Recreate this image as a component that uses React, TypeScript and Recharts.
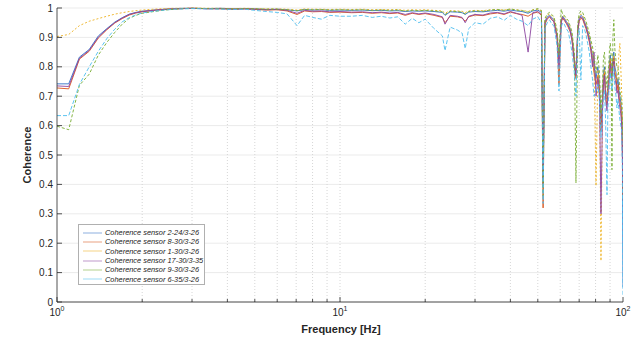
import { LineChart, Line, XAxis, YAxis, CartesianGrid, ReferenceLine, Legend } from "recharts";

// frequency grid [Hz]
const FREQ = [
  1.0, 1.1, 1.2, 1.3, 1.4, 1.5, 1.6, 1.7, 1.8, 1.9,
  2.0, 2.2, 2.4, 2.6, 2.8, 3.0, 3.4, 3.8, 4.2, 4.6,
  5.0, 5.5, 6.0, 6.5, 7.05, 7.5, 8.0, 8.6, 9.2, 10,
  11, 12, 13, 14, 15, 16, 17, 18, 19, 20,
  21.5, 23, 23.5, 24.5, 26, 27, 27.7, 28.5, 30, 32,
  34, 36, 38, 40, 42, 44, 46.2, 48, 50, 51.5,
  52.2, 53, 54, 55, 56, 57, 58.5, 59.4, 60.5, 61.2, 62, 63, 64, 65, 66,
  67.3, 68.2, 69.2, 70, 71, 72, 73, 74, 75, 76, 77, 78, 79, 80.3, 81.5,
  82.6, 83.6, 84.7, 85.3, 86, 86.8, 87.8, 88.4, 89, 89.6, 90.2, 90.8, 91.4, 92.1, 92.8, 93.6, 94.5, 95.2,
  96, 96.8, 97.5, 98.2, 99, 99.5, 100,
];

const S_2_24 = [
  0.742, 0.742, 0.833, 0.859, 0.905, 0.93, 0.952, 0.967, 0.979, 0.985,
  0.989, 0.993, 0.996, 0.998, 0.999, 0.999, 0.998, 0.999, 0.997, 0.998,
  0.997, 0.995, 0.996, 0.994, 0.99, 0.995, 0.993, 0.994, 0.992, 0.993,
  0.992, 0.993, 0.991, 0.992, 0.99, 0.991, 0.988, 0.99, 0.989, 0.99,
  0.988, 0.985, 0.975, 0.987, 0.986, 0.984, 0.978, 0.986, 0.988, 0.987,
  0.99, 0.992, 0.989, 0.993, 0.99, 0.988, 0.982, 0.99, 0.993, 0.985,
  0.4, 0.955, 0.97, 0.975, 0.968, 0.96, 0.91, 0.82, 0.96, 0.972, 0.965, 0.955, 0.945, 0.93, 0.905,
  0.83, 0.78, 0.93, 0.965, 0.975, 0.97, 0.955, 0.94, 0.92, 0.9, 0.87, 0.84, 0.8, 0.76, 0.8,
  0.74, 0.6, 0.7, 0.78, 0.8, 0.72, 0.69, 0.74, 0.76, 0.82, 0.84, 0.8, 0.79, 0.83, 0.85, 0.8, 0.78, 0.74,
  0.76, 0.72, 0.7, 0.68, 0.65, 0.55, 0.05,
];

const S_8_30 = [
  0.728, 0.725, 0.826, 0.853, 0.898, 0.926, 0.949, 0.964, 0.976, 0.983,
  0.987, 0.992, 0.995, 0.997, 0.998, 0.999, 0.998, 0.997, 0.996, 0.997,
  0.995, 0.993, 0.994, 0.99, 0.978, 0.99, 0.987, 0.988, 0.985, 0.986,
  0.984, 0.985, 0.982, 0.984, 0.981, 0.983, 0.975, 0.982, 0.978, 0.981,
  0.975, 0.968, 0.95, 0.972, 0.97, 0.966, 0.955, 0.97, 0.976, 0.974,
  0.98, 0.983, 0.978, 0.986, 0.981, 0.978, 0.972, 0.982, 0.986, 0.975,
  0.32, 0.945, 0.962, 0.97, 0.96, 0.955, 0.9, 0.74, 0.955, 0.965, 0.958, 0.948, 0.935, 0.92, 0.895,
  0.81, 0.76, 0.915, 0.955, 0.965, 0.962, 0.945, 0.93, 0.91, 0.885, 0.855, 0.82, 0.78, 0.74, 0.77,
  0.72, 0.58, 0.68, 0.75, 0.78, 0.7, 0.67, 0.72, 0.74, 0.8, 0.82, 0.78, 0.77, 0.81, 0.83, 0.78, 0.76, 0.72,
  0.74, 0.7, 0.68, 0.66, 0.62, 0.52, 0.35,
];

const S_1_30 = [
  0.903, 0.91, 0.94, 0.955, 0.964, 0.972, 0.979, 0.984, 0.988, 0.991,
  0.993, 0.996, 0.998, 0.999, 0.999, 1.0, 0.999, 0.999, 0.998, 0.999,
  0.998, 0.997, 0.997, 0.996, 0.993, 0.997, 0.996, 0.996, 0.995, 0.996,
  0.995, 0.996, 0.994, 0.995, 0.994, 0.995, 0.992, 0.994, 0.993, 0.994,
  0.992, 0.99, 0.982, 0.991, 0.99, 0.989, 0.984, 0.99, 0.992, 0.991,
  0.994, 0.995, 0.993, 0.996, 0.994, 0.992, 0.988, 0.994, 0.996, 0.99,
  0.45, 0.96, 0.975, 0.98, 0.972, 0.965, 0.915, 0.83, 0.962, 0.975, 0.97, 0.96, 0.95, 0.935, 0.91,
  0.84, 0.79, 0.935, 0.97, 0.98, 0.975, 0.96, 0.945, 0.925, 0.905, 0.875, 0.845, 0.81, 0.395, 0.79,
  0.73, 0.14, 0.69, 0.77, 0.79, 0.71, 0.68, 0.73, 0.75, 0.81, 0.83, 0.79, 0.78, 0.82, 0.84, 0.79, 0.77, 0.75,
  0.79, 0.85, 0.88, 0.8, 0.7, 0.6, 0.45,
];

const S_17_30 = [
  0.735, 0.733, 0.829, 0.856, 0.901, 0.928, 0.95, 0.966, 0.978, 0.984,
  0.988, 0.992, 0.995, 0.997, 0.998, 0.999, 0.997, 0.998, 0.996, 0.997,
  0.996, 0.994, 0.995, 0.992, 0.982, 0.992, 0.989, 0.99, 0.987, 0.988,
  0.986, 0.987, 0.984, 0.986, 0.983, 0.985, 0.978, 0.984, 0.98, 0.983,
  0.978, 0.97, 0.945, 0.975, 0.972, 0.968, 0.95, 0.972, 0.978, 0.976,
  0.983, 0.985, 0.98, 0.988, 0.982, 0.975, 0.85, 0.984, 0.988, 0.978,
  0.42, 0.95, 0.965, 0.972, 0.962, 0.952, 0.895, 0.8, 0.95, 0.968, 0.962, 0.95, 0.94, 0.925, 0.89,
  0.82, 0.77, 0.92, 0.96, 0.97, 0.965, 0.95, 0.935, 0.915, 0.89, 0.86, 0.8, 0.85, 0.7, 0.76,
  0.7, 0.3, 0.66, 0.74, 0.77, 0.69, 0.65, 0.7, 0.72, 0.78, 0.81, 0.77, 0.76, 0.8, 0.82, 0.76, 0.74, 0.71,
  0.72, 0.68, 0.66, 0.64, 0.6, 0.5, 0.4,
];

const S_9_30 = [
  0.598, 0.586, 0.737, 0.775, 0.84, 0.883, 0.917, 0.945, 0.965, 0.975,
  0.982, 0.988, 0.993, 0.996, 0.998, 0.999, 0.998, 0.998, 0.997, 0.998,
  0.997, 0.996, 0.996, 0.994, 0.991, 0.995, 0.994, 0.995, 0.993, 0.994,
  0.993, 0.994, 0.992, 0.993, 0.992, 0.993, 0.99, 0.992, 0.991, 0.992,
  0.99, 0.987, 0.978, 0.989, 0.988, 0.986, 0.98, 0.988, 0.99, 0.989,
  0.993, 0.995, 0.992, 0.997, 0.993, 0.991, 0.986, 0.993, 0.998, 0.992,
  0.36, 0.965, 0.98, 0.985, 0.978, 0.97, 0.925, 0.84, 0.996, 0.978, 0.975, 0.965, 0.958, 0.94, 0.92,
  0.85, 0.405, 0.945, 0.98, 0.99, 0.985, 0.97, 0.955, 0.935, 0.915, 0.89, 0.87, 0.83, 0.78, 0.84,
  0.78, 0.64, 0.75, 0.83, 0.85, 0.78, 0.73, 0.78, 0.8, 0.86, 0.88, 0.84, 0.45, 0.9, 0.96, 0.86, 0.82, 0.8,
  0.8, 0.76, 0.72, 0.7, 0.68, 0.62, 0.55,
];

const S_6_35 = [
  0.634, 0.634, 0.74, 0.8, 0.853, 0.896, 0.928, 0.953, 0.967, 0.977,
  0.983, 0.989, 0.993, 0.996, 0.997, 0.998, 0.997, 0.996, 0.995, 0.996,
  0.992, 0.988, 0.985, 0.98, 0.94, 0.975, 0.968, 0.962, 0.975, 0.972,
  0.972, 0.975, 0.968, 0.972, 0.966, 0.97, 0.945, 0.965, 0.95, 0.962,
  0.93, 0.905, 0.855, 0.935, 0.925, 0.915, 0.862, 0.93, 0.95, 0.945,
  0.965, 0.97, 0.958, 0.975, 0.962, 0.955, 0.94, 0.962, 0.97, 0.95,
  0.335, 0.93, 0.95, 0.96, 0.945, 0.94, 0.87, 0.718, 0.935, 0.95, 0.945, 0.93, 0.92, 0.89, 0.85,
  0.78, 0.7, 0.9, 0.93, 0.755, 0.94, 0.93, 0.91, 0.88, 0.85, 0.8, 0.76, 0.7, 0.72, 0.74,
  0.68, 0.56, 0.64, 0.7, 0.72, 0.62, 0.365, 0.66, 0.7, 0.75, 0.78, 0.74, 0.72, 0.76, 0.8, 0.73, 0.7, 0.66,
  0.69, 0.65, 0.62, 0.6, 0.58, 0.45, 0.02,
];

const SERIES = [
  { key: "s1", name: "Coherence sensor 2-24/3-26", color: "#2f6fc4", dash: undefined, values: S_2_24 },
  { key: "s2", name: "Coherence sensor 8-30/3-26", color: "#d95319", dash: undefined, values: S_8_30 },
  { key: "s3", name: "Coherence sensor 1-30/3-26", color: "#edb120", dash: "2 2", values: S_1_30 },
  { key: "s4", name: "Coherence sensor 17-30/3-35", color: "#8c45a0", dash: undefined, values: S_17_30 },
  { key: "s5", name: "Coherence sensor 9-30/3-26", color: "#77ac30", dash: "3 2", values: S_9_30 },
  { key: "s6", name: "Coherence sensor 6-35/3-26", color: "#4dbeee", dash: "4 2", values: S_6_35 },
];

const X_TICKS = [1, 2, 3, 4, 5, 6, 7, 8, 9, 10, 20, 30, 40, 50, 60, 70, 80, 90, 100];
const X_GRID = [2, 3, 4, 5, 6, 7, 8, 9, 10, 20, 30, 40, 50, 60, 70, 80, 90];
const Y_TICKS = [0, 0.1, 0.2, 0.3, 0.4, 0.5, 0.6, 0.7, 0.8, 0.9, 1];

const data = FREQ.map((f, i) => {
  const row: Record<string, number> = { f };
  SERIES.forEach(s => { row[s.key] = s.values[i]; });
  return row;
});

const FONT = "'Liberation Sans', Arial, Helvetica, sans-serif";
const AXIS = "#262626";

const XTick = (props: any) => {
  const { x, y, payload } = props;
  const v = payload.value;
  const major = v === 1 || v === 10 || v === 100;
  return (
    <g>
      <line x1={x} x2={x} y1={y} y2={y - (major ? 5 : 3)} stroke={AXIS} strokeWidth={0.8} />
      {major && (
        <text x={x} y={y + 14} textAnchor="middle" fontSize={10} fill={AXIS} fontFamily={FONT}>
          10<tspan dy={-5} fontSize={7}>{Math.round(Math.log10(v))}</tspan>
        </text>
      )}
    </g>
  );
};

const TopTick = (props: any) => {
  const { x, y, payload } = props;
  const major = payload.value === 1 || payload.value === 10 || payload.value === 100;
  return <line x1={x} x2={x} y1={y} y2={y + (major ? 5 : 3)} stroke="#555" strokeWidth={0.8} />;
};

const YTick = (props: any) => {
  const { x, y, payload } = props;
  return (
    <g>
      <line x1={x} x2={x + 5} y1={y} y2={y} stroke={AXIS} strokeWidth={0.8} />
      <text x={x - 4} y={y + 3.5} textAnchor="end" fontSize={10} fill={AXIS} fontFamily={FONT}>
        {payload.value}
      </text>
    </g>
  );
};

const RightTick = (props: any) => {
  const { x, y } = props;
  return <line x1={x} x2={x - 5} y1={y} y2={y} stroke="#777" strokeWidth={0.8} />;
};

const LegendBox = () => (
  <div
    style={{
      width: 127,
      height: 61,
      boxSizing: "border-box",
      border: "1px solid #b0b0b0",
      background: "#fff",
      padding: "3px 0 0 4px",
      fontFamily: FONT,
    }}
  >
    {SERIES.map(s => (
      <div key={s.key} style={{ display: "flex", alignItems: "center", height: 9.3 }}>
        <svg width={19} height={6} style={{ marginRight: 3, flexShrink: 0 }}>
          <line x1={0} x2={19} y1={3} y2={3} stroke={s.color} strokeOpacity={0.55} strokeWidth={1} />
        </svg>
        <span style={{ fontSize: 7.4, fontStyle: "italic", color: "#222", whiteSpace: "nowrap", lineHeight: "9px" }}>
          {s.name}
        </span>
      </div>
    ))}
  </div>
);

const App = () => {
  return (
    <div style={{ position: "absolute", left: 0, top: 0, width: 638, height: 341, background: "#fff" }}>
      <LineChart width={638} height={341} data={data} margin={{ top: 8, right: 15, bottom: 0, left: 0 }}>
        <CartesianGrid vertical={false} stroke="#ebebeb" />
        {X_GRID.map(v => (
          <ReferenceLine key={v} x={v} stroke="#d6d6d6" strokeDasharray="1 2" />
        ))}
        <XAxis
          dataKey="f"
          type="number"
          scale="log"
          domain={[1, 100]}
          ticks={X_TICKS}
          interval={0}
          allowDataOverflow
          height={39}
          tickSize={0}
          tickMargin={0}
          tick={<XTick />}
          axisLine={{ stroke: AXIS, strokeWidth: 0.8 }}
          label={{
            content: () => (
              <text x={341} y={333} textAnchor="middle" fontSize={11} fontWeight="bold" fill={AXIS} fontFamily={FONT}>
                Frequency [Hz]
              </text>
            ),
          }}
        />
        <XAxis
          xAxisId="top"
          orientation="top"
          dataKey="f"
          type="number"
          scale="log"
          domain={[1, 100]}
          ticks={X_TICKS}
          interval={0}
          allowDataOverflow
          height={0}
          tickSize={0}
          tickMargin={0}
          tick={<TopTick />}
          axisLine={{ stroke: "#9a9a9a", strokeWidth: 0.8 }}
        />
        <YAxis
          type="number"
          domain={[0, 1]}
          ticks={Y_TICKS}
          interval={0}
          width={57}
          tickSize={0}
          tickMargin={0}
          tick={<YTick />}
          axisLine={{ stroke: AXIS, strokeWidth: 0.8 }}
          label={{
            content: () => (
              <text
                x={31}
                y={155}
                transform="rotate(-90 31 155)"
                textAnchor="middle"
                fontSize={11}
                fontWeight="bold"
                fill={AXIS}
                fontFamily={FONT}
              >
                Coherence
              </text>
            ),
          }}
        />
        <YAxis
          yAxisId="right"
          orientation="right"
          type="number"
          domain={[0, 1]}
          ticks={Y_TICKS}
          interval={0}
          width={0}
          tickSize={0}
          tickMargin={0}
          tick={<RightTick />}
          axisLine={{ stroke: "#8a8a8a", strokeWidth: 0.8 }}
        />
        {SERIES.map(s => (
          <Line
            key={s.key}
            dataKey={s.key}
            name={s.name}
            type="linear"
            stroke={s.color}
            strokeWidth={1}
            strokeDasharray={s.dash}
            strokeOpacity={0.9}
            dot={false}
            activeDot={false}
            isAnimationActive={false}
          />
        ))}
        <Legend
          layout="vertical"
          align="center"
          verticalAlign="middle"
          content={() => <LegendBox />}
          wrapperStyle={{ left: 78, top: 224, width: 127, height: 61 }}
        />
      </LineChart>
    </div>
  );
};

export default App;
